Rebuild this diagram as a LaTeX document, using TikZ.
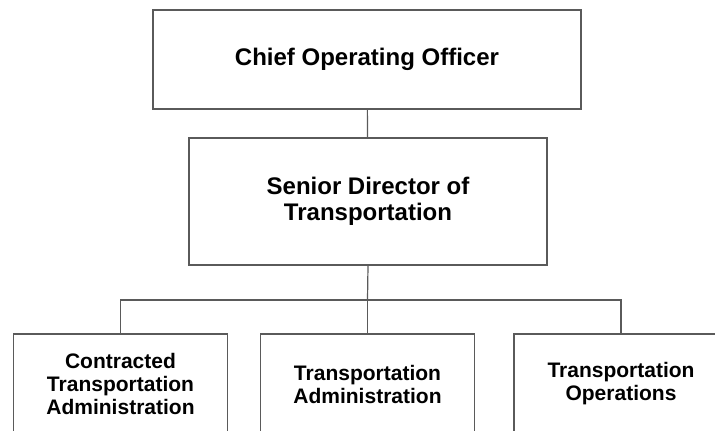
\documentclass[tikz,border=0pt]{standalone}
\usepackage{fontspec}
\setmainfont{Liberation Sans}
\usepackage{tikz}
\usetikzlibrary{positioning}
\usepackage{xcolor}
\definecolor{boxline}{RGB}{90,90,90}

\begin{document}
\begin{tikzpicture}[x=1pt, y=-1pt, every node/.style={font=\bfseries}]
  \useasboundingbox (0,0) rectangle (715,431);
  \clip (0,0) rectangle (715,431);
  \tikzset{
    orgbox/.style={draw=boxline, line width=1.2pt, fill=white, align=center, inner sep=2pt},
    topfont/.style={font=\fontsize{24}{26}\selectfont\bfseries},
    unitfont/.style={font=\fontsize{21}{23}\selectfont\bfseries},
    link/.style={draw=boxline, line width=1.2pt}
  }

  \node[orgbox, topfont, minimum width=428pt, minimum height=99pt] (coo) at (367,59.5) {Chief Operating Officer};
  \node[orgbox, topfont, minimum width=358pt, minimum height=127pt] (sdt) at (368,201.5) {Senior Director of\\Transportation};

  \node[orgbox, unitfont, minimum width=214pt, minimum height=100pt] (cta) at (120.5,384) {Contracted\\Transportation\\Administration};
  \node[orgbox, unitfont, minimum width=214pt, minimum height=100pt] (ta) at (367.5,384) {Transportation\\Administration};
  \node[orgbox, unitfont, minimum width=214pt, minimum height=100pt] (to) at (621,384) {Transportation\\Operations};

  \coordinate (bar) at (367.5,300);

  \draw[link] (coo) -- (sdt);
  \draw[link] (sdt.south) -- (bar);
  \draw[link] (bar) -| (cta.north);
  \draw[link] (bar) -- (ta.north);
  \draw[link] (bar) -| (to.north);
\end{tikzpicture}
\end{document}
